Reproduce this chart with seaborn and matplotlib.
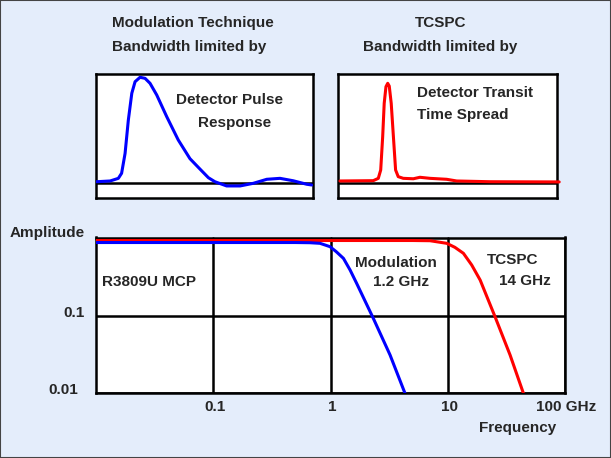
import matplotlib
matplotlib.use("Agg")
import matplotlib.pyplot as plt
import matplotlib.transforms as mtransforms
from matplotlib.patches import Rectangle
import seaborn as sns
import pandas as pd

# ---------------- data ----------------
# frequency response (GHz, relative amplitude)
mod_freq = [0.01, 0.1, 0.5, 0.668, 0.814, 0.99, 1.12, 1.29, 1.47, 1.67, 2.32, 3.22, 4.32]
mod_amp = [0.9, 0.9, 0.9, 0.895, 0.879, 0.795, 0.684, 0.56, 0.395, 0.266, 0.093, 0.0312, 0.0099]
tcspc_freq = [0.01, 1, 5, 7.06, 9.8, 11.5, 13.6, 16.0, 18.9, 25.3, 34.0, 44.2]
tcspc_amp = [0.956, 0.956, 0.956, 0.95, 0.879, 0.78, 0.652, 0.46, 0.293, 0.098, 0.0312, 0.0099]

# detector pulse response (time in arbitrary units, amplitude)
pulse_t = [0.03, 0.65, 1.03, 1.18, 1.34, 1.49, 1.65, 1.80, 2.03, 2.26, 2.49, 2.80, 3.26, 3.79,
           4.33, 4.79, 5.18, 5.48, 6.02, 6.64, 7.25, 7.87, 8.48, 9.09, 9.71, 9.94]
pulse_amp = [0.012, 0.019, 0.044, 0.092, 0.28, 0.595, 0.849, 0.958, 1.0, 0.99, 0.943, 0.832, 0.627, 0.407,
             0.23, 0.132, 0.05, 0.012, -0.028, -0.028, -0.003, 0.035, 0.044, 0.021, -0.012, -0.019]

# transit time spread
tts_t = [0.09, 1.61, 1.84, 1.95, 2.04, 2.11, 2.19, 2.27, 2.34, 2.43, 2.53, 2.63, 2.75, 2.98,
         3.44, 3.74, 4.20, 4.96, 5.42, 6.94, 10.1]
tts_amp = [0.019, 0.022, 0.044, 0.123, 0.438, 0.754, 0.911, 0.943, 0.917, 0.754, 0.438, 0.123, 0.06, 0.044,
           0.04, 0.054, 0.044, 0.035, 0.019, 0.012, 0.01]

x_ticks = [0.1, 1, 10, 100]
x_tick_labels = ["0.1", "1", "10", "100 GHz"]
y_ticks = [0.01, 0.1]
y_tick_labels = ["0.01", "0.1"]

# ---------------- style ----------------
sns.set_style("white")
plt.rcParams['font.family'] = ['Liberation Sans', 'DejaVu Sans']
plt.rcParams['font.weight'] = 'bold'
BG = "#E4EDFB"
FS = 11

fig = plt.figure(figsize=(6.11, 4.58), dpi=100, facecolor=BG)
fig.patches.append(Rectangle((0, 0), 1, 1, transform=fig.transFigure, fill=False,
                             edgecolor="#444444", linewidth=1.5, zorder=10))

# ---------------- main axes ----------------
ax = fig.add_axes([96 / 611, 1 - 393 / 458, 469 / 611, 155.5 / 458])
ax.set_facecolor("white")
df_mod = pd.DataFrame({"f": mod_freq, "a": mod_amp})
df_tc = pd.DataFrame({"f": tcspc_freq, "a": tcspc_amp})
sns.lineplot(data=df_tc, x="f", y="a", ax=ax, color="#FF0000", lw=2.2, sort=False, zorder=3)
sns.lineplot(data=df_mod, x="f", y="a", ax=ax, color="#0000FF", lw=2.2, sort=False, zorder=3)
ax.set_xscale("log")
ax.set_yscale("log")
ax.set_xlim(0.01, 100)
ax.set_ylim(0.01, 1.046)
ax.minorticks_off()
ax.set_xticks(x_ticks)
ax.set_xticklabels(x_tick_labels, fontsize=FS, fontweight="bold")
ax.set_yticks(y_ticks)
ax.set_yticklabels(y_tick_labels, fontsize=FS, fontweight="bold")
ax.tick_params(axis="both", length=0)
ax.tick_params(axis="x", pad=5)
ax.tick_params(axis="y", pad=8)
ax.grid(True, color="black", lw=1.8)
ax.set_axisbelow(True)
ax.set_xlabel("")
ax.set_ylabel("")
for s in ax.spines.values():
    s.set_visible(True)
    s.set_color("black")
    s.set_linewidth(1.8)
# shift y tick labels slightly
for lab, dx in zip(ax.get_yticklabels(), [-7, 0]):
    lab.set_transform(lab.get_transform() + mtransforms.ScaledTranslation(dx / 100, 5 / 100, fig.dpi_scale_trans))
for lab in ax.get_xticklabels():
    lab.set_transform(lab.get_transform() + mtransforms.ScaledTranslation(1.5 / 100, 0, fig.dpi_scale_trans))

ax.text(0.013, 0.714, "R3809U MCP", transform=ax.transAxes, fontsize=FS, fontweight="bold",
        ha="left", va="center")
ax.text(0.6397, 0.836, "Modulation", transform=ax.transAxes, fontsize=FS, fontweight="bold",
        ha="center", va="center")
ax.text(0.650, 0.714, "1.2 GHz", transform=ax.transAxes, fontsize=FS, fontweight="bold",
        ha="center", va="center")
ax.text(0.888, 0.855, "TCSPC", transform=ax.transAxes, fontsize=FS, fontweight="bold",
        ha="center", va="center")
ax.text(0.9136, 0.720, "14 GHz", transform=ax.transAxes, fontsize=FS, fontweight="bold",
        ha="center", va="center")

fig.text(10 / 611, 1 - 233 / 458, "Amplitude", fontsize=FS, fontweight="bold", ha="left", va="center")
fig.text(518 / 611, 1 - 428 / 458, "Frequency", fontsize=FS, fontweight="bold", ha="center", va="center")

# ---------------- insets ----------------
def inset(rect, t, a, color):
    iax = fig.add_axes(rect)
    iax.set_facecolor("white")
    d = pd.DataFrame({"t": t, "a": a})
    sns.lineplot(data=d, x="t", y="a", ax=iax, color=color, lw=2.2, sort=False, zorder=3)
    iax.axhline(0, color="black", lw=1.8, zorder=2)
    iax.set_xlim(0, 10)
    iax.set_ylim(-0.142, 1.031)
    iax.set_xticks([])
    iax.set_yticks([])
    iax.set_xlabel("")
    iax.set_ylabel("")
    for s in iax.spines.values():
        s.set_visible(True)
        s.set_color("black")
        s.set_linewidth(1.8)
    return iax

ax1 = inset([96 / 611, 1 - 198 / 458, 217 / 611, 124 / 458], pulse_t, pulse_amp, "#0000FF")
ax1.text(0.613, 0.790, "Detector Pulse", transform=ax1.transAxes, fontsize=FS, fontweight="bold",
         ha="center", va="center")
ax1.text(0.638, 0.605, "Response", transform=ax1.transAxes, fontsize=FS, fontweight="bold",
         ha="center", va="center")

ax2 = inset([338 / 611, 1 - 198 / 458, 219 / 611, 124 / 458], tts_t, tts_amp, "#FF0000")
ax2.lines[0].set_clip_on(False)
ax2.text(0.361, 0.847, "Detector Transit", transform=ax2.transAxes, fontsize=FS, fontweight="bold",
         ha="left", va="center")
ax2.text(0.361, 0.669, "Time Spread", transform=ax2.transAxes, fontsize=FS, fontweight="bold",
         ha="left", va="center")

fig.text(112 / 611, 1 - 22.7 / 458, "Modulation Technique", fontsize=FS, fontweight="bold", ha="left", va="center")
fig.text(112 / 611, 1 - 46.7 / 458, "Bandwidth limited by", fontsize=FS, fontweight="bold", ha="left", va="center")
fig.text(441 / 611, 1 - 22.7 / 458, "TCSPC", fontsize=FS, fontweight="bold", ha="center", va="center")
fig.text(440 / 611, 1 - 46.7 / 458, "Bandwidth limited by", fontsize=FS, fontweight="bold", ha="center", va="center")

fig.savefig("out.png", dpi=100, facecolor=BG)
